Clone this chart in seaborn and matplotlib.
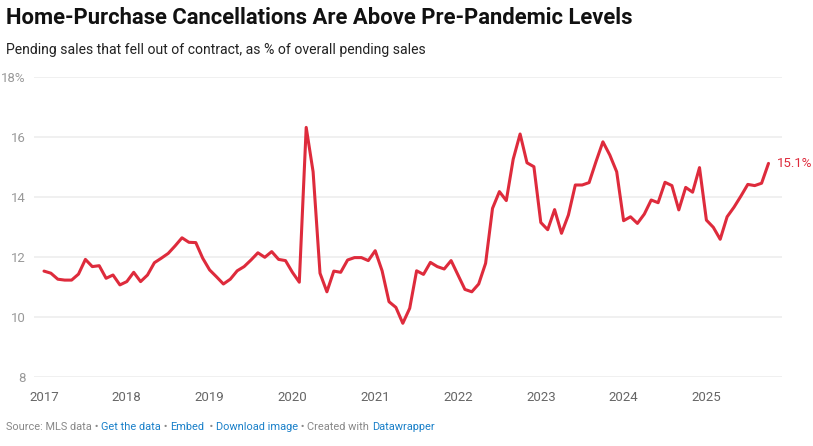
import numpy as np
import pandas as pd
import matplotlib.pyplot as plt
import seaborn as sns

# Monthly cancellation share (%), Jan 2017 - Oct 2025
years = list(range(2017, 2026))
values_2017 = [11.53, 11.46, 11.26, 11.23, 11.23, 11.43, 11.92, 11.68, 11.71, 11.29, 11.40, 11.07]
values_2018 = [11.18, 11.49, 11.18, 11.40, 11.81, 11.96, 12.12, 12.37, 12.64, 12.49, 12.48, 11.96]
values_2019 = [11.57, 11.34, 11.10, 11.26, 11.54, 11.68, 11.90, 12.14, 11.99, 12.18, 11.92, 11.88]
values_2020 = [11.49, 11.16, 16.32, 14.84, 11.46, 10.84, 11.53, 11.49, 11.90, 11.98, 11.98, 11.88]
values_2021 = [12.21, 11.54, 10.51, 10.32, 9.79, 10.29, 11.54, 11.42, 11.82, 11.68, 11.60, 11.88]
values_2022 = [11.40, 10.92, 10.84, 11.10, 11.79, 13.62, 14.18, 13.88, 15.26, 16.10, 15.14, 15.01]
values_2023 = [13.15, 12.91, 13.58, 12.79, 13.40, 14.40, 14.40, 14.48, 15.18, 15.84, 15.40, 14.84]
values_2024 = [13.21, 13.34, 13.12, 13.43, 13.90, 13.81, 14.49, 14.38, 13.57, 14.32, 14.16, 14.98]
values_2025 = [13.23, 12.99, 12.59, 13.34, 13.66, 14.03, 14.42, 14.38, 14.46, 15.12]

y_ticks = [8, 10, 12, 14, 16, 18]
y_tick_labels = ["8", "10", "12", "14", "16", "18%"]

all_values = (values_2017 + values_2018 + values_2019 + values_2020 + values_2021
              + values_2022 + values_2023 + values_2024 + values_2025)
dates = pd.date_range("2017-01-01", periods=len(all_values), freq="MS")
df = pd.DataFrame({"date": dates, "share": all_values})
df["t"] = df["date"].dt.year + (df["date"].dt.month - 1) / 12

RED = "#de2b3c"
GRID = "#ececec"
GREY = "#888888"

sns.set_style("white")
plt.rcParams["font.family"] = ["Roboto", "DejaVu Sans"]

fig = plt.figure(figsize=(8.13, 4.46), dpi=100)
ax = fig.add_axes([34 / 813, 1 - 377 / 446, (782 - 34) / 813, 300 / 446])

sns.lineplot(data=df, x="t", y="share", ax=ax, color=RED, linewidth=2.2)

ax.set_ylim(8, 18)
ax.set_xlim(2017 - 10 / 82.8, 2017 + 738 / 82.8)
ax.set_yticks(y_ticks)
ax.set_yticklabels(y_tick_labels)
ax.set_xticks(years)
ax.set_xticklabels([str(y) for y in years])
for yv in y_ticks:
    ax.axhline(yv, color=GRID, linewidth=1.1, zorder=0)
for s in ax.spines.values():
    s.set_visible(False)
ax.tick_params(axis="y", length=0, pad=6, labelsize=9.5, labelcolor="#999999")
ax.tick_params(axis="x", length=5, width=0.9, color="#444444", pad=5,
               labelsize=9.5, labelcolor="#666666", direction="out")
ax.set_xlabel("")
ax.set_ylabel("")

last = df.iloc[-1]
ax.annotate(f"{last['share']:.1f}%", (last["t"], last["share"]), xytext=(6, 0),
            textcoords="offset points", color=RED, fontsize=9.5, va="center", ha="left")

fig.text(6 / 813, 1 - 18 / 446, "Home-Purchase Cancellations Are Above Pre-Pandemic Levels",
         fontsize=15.8, fontweight="bold", color="#111111", va="center", ha="left")
fig.text(6 / 813, 1 - 50 / 446, "Pending sales that fell out of contract, as % of overall pending sales",
         fontsize=10.1, color="#222222", va="center", ha="left")

# footer with coloured link text
parts = [("Source: MLS data", GREY), (" \u2022 ", GREY), ("Get the data", "#1a80c9"),
         (" \u2022 ", GREY), ("Embed", "#1a80c9"), ("  \u2022 ", GREY),
         ("Download image", "#1a80c9"), (" \u2022 ", GREY), ("Created with ", GREY),
         ("Datawrapper", "#1a80c9")]
fig.canvas.draw()
renderer = fig.canvas.get_renderer()
x0 = 6 / 813
for txt, col in parts:
    t = fig.text(x0, 1 - 427 / 446, txt, fontsize=7.9, color=col, va="center", ha="left")
    bb = t.get_window_extent(renderer=renderer)
    x0 += bb.width / fig.bbox.width

fig.savefig("out.png", dpi=100, facecolor="white")
